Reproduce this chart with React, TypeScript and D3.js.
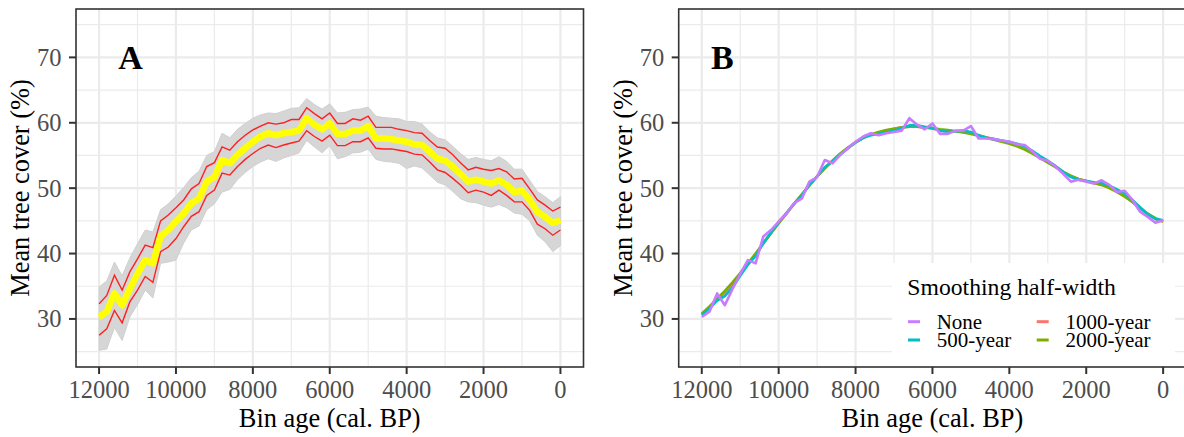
import React from 'react';
import * as d3 from 'd3';

// bin ages (cal. BP), 200-year bins
const ages = [
  12000, 11800, 11600, 11400, 11200, 11000, 10800, 10600, 10400, 10200,
  10000, 9800, 9600, 9400, 9200, 9000, 8800, 8600, 8400, 8200,
  8000, 7800, 7600, 7400, 7200, 7000, 6800, 6600, 6400, 6200,
  6000, 5800, 5600, 5400, 5200, 5000, 4800, 4600, 4400, 4200,
  4000, 3800, 3600, 3400, 3200, 3000, 2800, 2600, 2400, 2200,
  2000, 1800, 1600, 1400, 1200, 1000, 800, 600, 400, 200,
  0,
];

// panel A: mean (yellow), interval (red), replicate envelope (grey)
const meanCover = [
  30.3, 31.1, 33.9, 32.1, 34.6, 36.9, 39.0, 38.5, 42.6, 43.6,
  44.9, 46.1, 47.7, 48.4, 51.0, 51.7, 54.3, 53.8, 55.1, 56.1,
  57.1, 57.9, 58.4, 58.1, 58.4, 58.6, 58.8, 60.7, 59.7, 59.0,
  59.9, 58.3, 58.3, 58.8, 58.8, 59.5, 57.6, 57.6, 57.5, 57.3,
  57.1, 56.7, 56.6, 55.6, 54.5, 54.2, 53.3, 52.2, 51.0, 51.3,
  51.0, 50.7, 51.2, 50.5, 49.4, 49.6, 48.2, 46.4, 45.6, 44.7,
  45.1,
];
const upperCover = [
  32.3, 33.6, 36.7, 34.4, 37.2, 39.2, 41.3, 40.9, 45.0, 45.9,
  47.0, 48.2, 49.9, 50.7, 53.3, 53.9, 56.3, 55.8, 57.1, 58.1,
  58.9, 59.5, 60.0, 59.8, 60.0, 60.5, 60.5, 62.3, 61.4, 60.6,
  61.5, 59.9, 59.9, 60.6, 60.4, 61.0, 59.3, 59.3, 59.3, 59.0,
  58.8, 58.5, 58.4, 57.3, 56.3, 56.1, 55.1, 53.9, 52.8, 53.2,
  52.9, 52.7, 53.0, 52.5, 51.4, 51.5, 49.9, 48.2, 47.4, 46.5,
  47.1,
];
const lowerCover = [
  27.5, 28.5, 31.3, 29.4, 32.6, 34.4, 36.5, 35.6, 40.3, 41.0,
  42.3, 44.1, 45.7, 46.4, 48.9, 49.7, 52.3, 52.0, 53.3, 54.4,
  55.3, 56.1, 56.6, 56.2, 56.6, 56.9, 57.2, 58.8, 57.9, 57.2,
  58.1, 56.5, 56.5, 57.1, 57.1, 57.7, 56.1, 56.0, 56.0, 55.8,
  55.6, 55.2, 55.1, 54.0, 52.8, 52.4, 51.5, 50.5, 49.3, 49.7,
  49.4, 48.9, 49.7, 48.9, 47.9, 47.9, 46.6, 44.5, 43.8, 42.8,
  43.6,
];
const greyHigh = [
  34.9, 35.8, 38.7, 36.6, 39.3, 41.5, 43.6, 43.3, 46.7, 47.6,
  48.8, 50.1, 51.6, 52.6, 55.0, 55.6, 58.4, 57.7, 59.0, 59.9,
  60.7, 61.2, 61.5, 61.4, 61.8, 62.2, 62.3, 63.7, 62.8, 62.1,
  62.9, 61.5, 61.6, 62.0, 62.1, 62.4, 61.0, 60.8, 60.7, 60.6,
  60.2, 60.2, 59.8, 58.6, 57.7, 57.4, 56.4, 55.3, 54.4, 54.7,
  54.4, 54.2, 54.8, 54.1, 52.9, 52.9, 51.2, 49.5, 48.7, 47.8,
  48.7,
];
const greyLow = [
  25.2, 25.4, 28.7, 26.7, 30.3, 32.2, 34.4, 33.2, 38.5, 38.7,
  39.0, 41.6, 43.6, 44.2, 46.7, 47.6, 49.4, 49.8, 51.3, 52.4,
  53.3, 54.0, 54.5, 54.1, 54.6, 55.0, 55.4, 57.3, 56.3, 55.4,
  56.5, 54.5, 54.8, 55.4, 55.5, 56.0, 54.4, 54.1, 54.0, 53.8,
  53.0, 53.4, 53.1, 52.0, 50.9, 50.5, 49.5, 48.4, 47.9, 47.8,
  47.4, 47.1, 47.5, 47.0, 46.2, 46.0, 45.0, 42.8, 41.8, 40.3,
  41.2,
];

// panel B: smoothing half-widths
const smooth500 = [
  30.6, 31.6, 32.8, 33.5, 34.8, 36.6, 38.3, 39.6, 41.6, 43.2,
  44.8, 46.2, 47.6, 48.9, 50.5, 51.8, 53.2, 54.1, 55.1, 56.1,
  57.0, 57.7, 58.1, 58.3, 58.5, 58.8, 59.2, 59.6, 59.6, 59.4,
  59.2, 58.8, 58.6, 58.7, 58.8, 58.6, 58.1, 57.7, 57.5, 57.3,
  57.1, 56.8, 56.4, 55.7, 54.9, 54.2, 53.4, 52.5, 51.7, 51.3,
  51.1, 50.9, 50.8, 50.4, 49.8, 49.2, 48.2, 47.1, 46.0, 45.3,
  45.1,
];
const smooth1000 = [
  30.7, 31.8, 32.9, 34.0, 35.2, 36.8, 38.4, 39.9, 41.5, 43.1,
  44.7, 46.1, 47.6, 49.0, 50.5, 51.8, 53.1, 54.2, 55.2, 56.1,
  57.0, 57.7, 58.2, 58.5, 58.8, 59.1, 59.3, 59.4, 59.4, 59.3,
  59.1, 58.9, 58.8, 58.7, 58.6, 58.4, 58.1, 57.8, 57.5, 57.2,
  56.9, 56.5, 56.0, 55.4, 54.7, 54.0, 53.3, 52.5, 51.8, 51.4,
  51.1, 50.8, 50.5, 50.1, 49.5, 48.8, 47.9, 46.9, 46.0, 45.3,
  44.9,
];
const smooth2000 = [
  30.8, 31.9, 33.1, 34.3, 35.6, 37.0, 38.5, 40.0, 41.6, 43.1,
  44.6, 46.1, 47.6, 49.0, 50.4, 51.8, 53.0, 54.2, 55.3, 56.2,
  57.0, 57.7, 58.2, 58.6, 58.9, 59.1, 59.3, 59.4, 59.4, 59.3,
  59.2, 59.0, 58.9, 58.7, 58.5, 58.3, 58.0, 57.7, 57.4, 57.1,
  56.8, 56.4, 55.9, 55.3, 54.6, 53.9, 53.2, 52.5, 51.9, 51.4,
  51.1, 50.8, 50.5, 50.0, 49.4, 48.7, 47.9, 47.0, 46.1, 45.4,
  44.9,
];

const xTicks = [12000, 10000, 8000, 6000, 4000, 2000, 0];
const xMinor = [11000, 9000, 7000, 5000, 3000, 1000];
const yTicks = [30, 40, 50, 60, 70];
const yMinor = [25, 35, 45, 55, 65, 75];

const legendLabels = ['None', '500-year', '1000-year', '2000-year'];
const legendColors = ['#C77CFF', '#00BFC4', '#F8766D', '#7CAE00'];

const FONT = "'Liberation Serif', 'DejaVu Serif', 'Times New Roman', Times, serif";
const W = 1184;
const H = 437;
const panelW = 507.5;
const panelH = 358;
const top = 9;

const x = d3.scaleLinear().domain([12600, -600]).range([0, panelW]);
const y = d3.scaleLinear().domain([22.65, 77.4]).range([panelH, 0]);

const line = d3
  .line<number>()
  .x((_, i) => x(ages[i]))
  .y((d) => y(d));

const band = d3
  .area<number>()
  .x((_, i) => x(ages[i]))
  .y0((_, i) => y(greyLow[i]))
  .y1((d) => y(d));

function Panel({ left, letter, letterAge, children }: any) {
  return (
    <g transform={`translate(${left},${top})`}>
      {yMinor.map((v) => (
        <line key={'ym' + v} x1={0} x2={panelW} y1={y(v)} y2={y(v)} stroke="#ebebeb" strokeWidth={1.2} />
      ))}
      {xMinor.map((v) => (
        <line key={'xm' + v} x1={x(v)} x2={x(v)} y1={0} y2={panelH} stroke="#ebebeb" strokeWidth={1.2} />
      ))}
      {yTicks.map((v) => (
        <line key={'yM' + v} x1={0} x2={panelW} y1={y(v)} y2={y(v)} stroke="#ebebeb" strokeWidth={2.2} />
      ))}
      {xTicks.map((v) => (
        <line key={'xM' + v} x1={x(v)} x2={x(v)} y1={0} y2={panelH} stroke="#ebebeb" strokeWidth={2.2} />
      ))}
      {children}
      <text x={x(letterAge)} y={y(70) + 11.5} fontWeight="bold" fontSize={34} fill="#000">
        {letter}
      </text>
      <rect x={0} y={0} width={panelW} height={panelH} fill="none" stroke="#333333" strokeWidth={1.6} />
      {xTicks.map((v) => (
        <g key={'xt' + v}>
          <line x1={x(v)} x2={x(v)} y1={panelH} y2={panelH + 7} stroke="#333333" strokeWidth={2} />
          <text x={x(v)} y={panelH + 31} textAnchor="middle" fontSize={24.5} fill="#4d4d4d">
            {v}
          </text>
        </g>
      ))}
      {yTicks.map((v) => (
        <g key={'yt' + v}>
          <line x1={-7} x2={0} y1={y(v)} y2={y(v)} stroke="#333333" strokeWidth={2} />
          <text x={-14.5} y={y(v) + 8.5} textAnchor="end" fontSize={24.5} fill="#4d4d4d">
            {v}
          </text>
        </g>
      ))}
      <text x={panelW / 2} y={418} textAnchor="middle" fontSize={26.4} fill="#000">
        Bin age (cal. BP)
      </text>
      <text
        transform={`translate(${-47},${panelH / 2}) rotate(-90)`}
        textAnchor="middle"
        fontSize={26.4}
        fill="#000"
      >
        Mean tree cover (%)
      </text>
    </g>
  );
}

export default function App() {
  const bSeries = [
    { v: smooth1000, c: legendColors[2] },
    { v: smooth2000, c: legendColors[3] },
    { v: smooth500, c: legendColors[1] },
    { v: meanCover, c: legendColors[0] },
  ];
  const legX = 892 - 678.7;
  const legY = 263 - top;
  return (
    <svg
      width={W}
      height={H}
      style={{ position: 'absolute', left: 0, top: 0, background: '#fff', fontFamily: FONT }}
    >
      <rect width={W} height={H} fill="#fff" />
      <Panel left={76} letter="A" letterAge={11500}>
        <path d={band(greyHigh) || ''} fill="#d6d6d6" stroke="#d0d0d0" strokeWidth={1} />
        <path d={line(upperCover) || ''} fill="none" stroke="#ff2020" strokeWidth={1.4} />
        <path d={line(lowerCover) || ''} fill="none" stroke="#ff2020" strokeWidth={1.4} />
        <path d={line(meanCover) || ''} fill="none" stroke="#ffff00" strokeWidth={6.5} strokeLinejoin="round" />
      </Panel>
      <Panel left={678.7} letter="B" letterAge={11760}>
        {bSeries.map((s, i) => (
          <path key={i} d={line(s.v) || ''} fill="none" stroke={s.c} strokeWidth={2.6} strokeLinejoin="round" />
        ))}
        <g transform={`translate(${legX},${legY})`}>
          <rect x={0} y={0} width={283} height={103} fill="#fff" />
          <text x={15.3} y={32} fontSize={23.7} fill="#000">
            Smoothing half-width
          </text>
          {legendLabels.map((lab, i) => {
            const col = Math.floor(i / 2);
            const row = i % 2;
            const kx = 16 + col * 128.7;
            const ky = 58.7 + row * 18.3;
            return (
              <g key={lab}>
                <line x1={kx} x2={kx + 12} y1={ky} y2={ky} stroke={legendColors[i]} strokeWidth={3} />
                <text x={kx + 28.7} y={ky + 7.3} fontSize={21} fill="#000">
                  {lab}
                </text>
              </g>
            );
          })}
        </g>
      </Panel>
    </svg>
  );
}
